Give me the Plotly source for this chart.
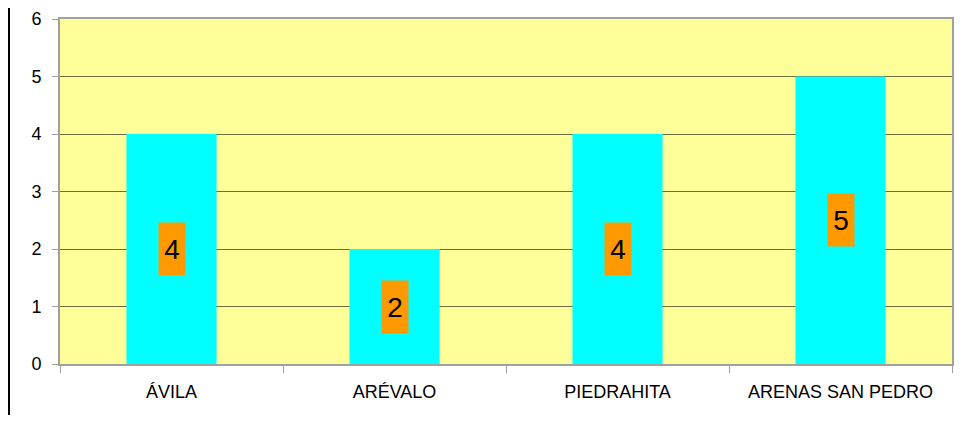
import plotly.graph_objects as go

municipios = ["ÁVILA", "ARÉVALO", "PIEDRAHITA", "ARENAS SAN PEDRO"]
valores = [4, 2, 4, 5]
y_ticks = [0, 1, 2, 3, 4, 5, 6]

fig = go.Figure()
fig.add_trace(go.Bar(
    x=municipios, y=valores,
    marker=dict(color="#00FFFF", line_width=0),
    width=0.404, showlegend=False, hoverinfo="x+y",
))

# orange value boxes in the middle of each bar
for m, v in zip(municipios, valores):
    fig.add_annotation(
        x=m, y=v / 2, text=str(v), showarrow=False,
        font=dict(family="Liberation Sans, Arial", size=28, color="black"),
        bgcolor="#FF9900", width=24, height=50, borderpad=1,
    )

# black frame line at the far left (page body adds an 8px offset)
fig.add_shape(type="line", xref="paper", yref="paper",
              x0=-51 / 892, x1=-51 / 892, y0=-1, y1=2,
              line=dict(color="black", width=2))

fig.update_layout(
    width=950, height=407,
    margin=dict(l=52, r=6, t=11, b=51),
    paper_bgcolor="white", plot_bgcolor="#FFFF99",
    font=dict(family="Liberation Sans, Arial", color="black"),
    bargap=0.596,
    xaxis=dict(
        showgrid=False, tickson="boundaries", ticks="outside", ticklen=7,
        tickcolor="#A0A0A0", showline=True, linecolor="#A0A0A0", linewidth=2,
        mirror=True, tickfont=dict(size=18), ticklabelstandoff=10,
        fixedrange=True, automargin=False,
    ),
    yaxis=dict(
        range=[0, 6], tickvals=y_ticks, ticks="outside", ticklen=6,
        tickcolor="#A0A0A0", showgrid=True, gridcolor="#6E6E3C", gridwidth=1,
        showline=True, linecolor="#A0A0A0", linewidth=2, mirror=True,
        tickfont=dict(size=18), ticklabelstandoff=7, zeroline=False,
        automargin=False,
    ),
)

fig.write_html("out.html")
